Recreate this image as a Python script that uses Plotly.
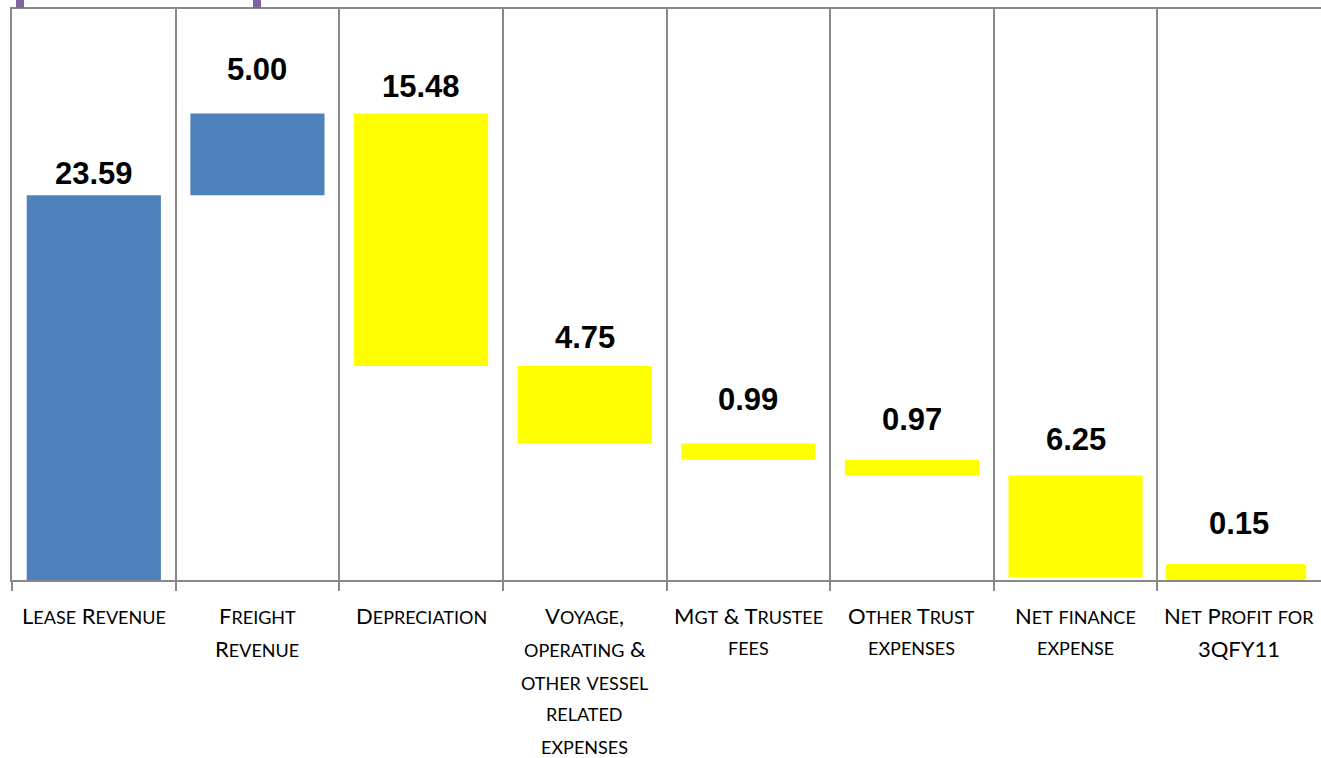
import plotly.graph_objects as go

# ---- data ----
categories = [
    "Lease Revenue",
    "Freight|Revenue",
    "Depreciation",
    "Voyage,|operating &|other vessel|related|expenses",
    "Mgt & Trustee|fees",
    "Other Trust|expenses",
    "Net finance|expense",
    "Net Profit for|3QFY11",
]
values = [23.59, 5.00, 15.48, 4.75, 0.99, 0.97, 6.25, 0.15]
kinds = ["rev", "rev", "exp", "exp", "exp", "exp", "exp", "total"]
# drawn height of the final bar as it appears in the picture
profit_bar_height = 0.98

# ---- styles ----
BLUE = "#4F81BD"
YELLOW = "#FFFF00"
GRID = "#888888"
label_shift = [22, 44, 27, 29, 44, 40, 36, 41]

# waterfall bases
bases, heights, colors = [], [], []
running = 0.0
for v, k in zip(values, kinds):
    if k == "rev":
        bases.append(running); heights.append(v); running += v; colors.append(BLUE)
    elif k == "exp":
        running -= v; bases.append(running); heights.append(v); colors.append(YELLOW)
    else:
        bases.append(0); heights.append(profit_bar_height); colors.append(YELLOW)

x = list(range(len(categories)))

fig = go.Figure()
fig.add_trace(go.Bar(
    x=x[:-1], y=heights[:-1], base=bases[:-1],
    marker=dict(color=colors[:-1], line=dict(width=0)),
    width=0.82, hoverinfo="skip", showlegend=False,
))
fig.add_trace(go.Bar(
    x=[x[-1] - 0.02], y=[heights[-1]], base=[bases[-1]],
    marker=dict(color=colors[-1], line=dict(width=0), cornerradius=3),
    width=0.86, hoverinfo="skip", showlegend=False,
))

annotations = []
for i, (v, b, h) in enumerate(zip(values, bases, heights)):
    annotations.append(dict(
        x=i, y=b + h, xref="x", yref="y", text=f"<b>{v:.2f}</b>",
        showarrow=False, yanchor="middle", yshift=label_shift[i],
        font=dict(family="Arial, Liberation Sans, sans-serif", size=31, color="#000"),
    ))


def smallcaps(s, big=22, small=18):
    out, buf, mode = "", "", None
    def flush(buf, mode):
        if not buf:
            return ""
        if mode == "small":
            return f'<span style="font-size:{small}px">{buf}</span>'
        return buf
    for ch in s:
        m = "small" if ch.islower() else "big"
        if m != mode:
            out += flush(buf, mode); buf = ""; mode = m
        buf += ch.upper()
    out += flush(buf, mode)
    return out


for i, cat in enumerate(categories):
    for j, line in enumerate(cat.split("|")):
        annotations.append(dict(
            x=i, y=0, xref="x", yref="paper", text=smallcaps(line),
            showarrow=False, yanchor="middle", yshift=-35 - 33 * j,
            font=dict(family="Lato, Open Sans, sans-serif", size=22, color="#000"),
        ))

# purple fragments at top-left (bottom of a box above the chart)
W_PLOT = 1321 - 12
H_PLOT = 580 - 9
def px(xp):
    return (xp - 12) / W_PLOT
def py(yp):
    return (580 - yp) / H_PLOT
shapes = []
for x0, x1 in [(16, 24), (253, 261)]:
    shapes.append(dict(type="rect", xref="paper", yref="paper",
                       x0=px(x0), x1=px(x1), y0=py(8), y1=py(-2),
                       fillcolor="#8064A2", line=dict(width=0), layer="above"))

fig.update_layout(
    width=1321, height=758,
    margin=dict(l=12, r=0, t=9, b=178),
    paper_bgcolor="white", plot_bgcolor="white",
    barmode="overlay",
    annotations=annotations,
    shapes=shapes,
    xaxis=dict(
        range=[-0.5, 7.5],
        tickvals=[i - 0.5 for i in range(8)],
        showticklabels=False,
        ticks="outside", ticklen=9, tickwidth=2, tickcolor=GRID,
        showgrid=True, gridcolor=GRID, gridwidth=2,
        showline=True, linecolor=GRID, linewidth=2, mirror=True,
        zeroline=False,
    ),
    yaxis=dict(
        range=[0, 35],
        showticklabels=False, showgrid=False, zeroline=False,
        showline=True, linecolor=GRID, linewidth=2,
    ),
)

fig.write_html("out.html")
